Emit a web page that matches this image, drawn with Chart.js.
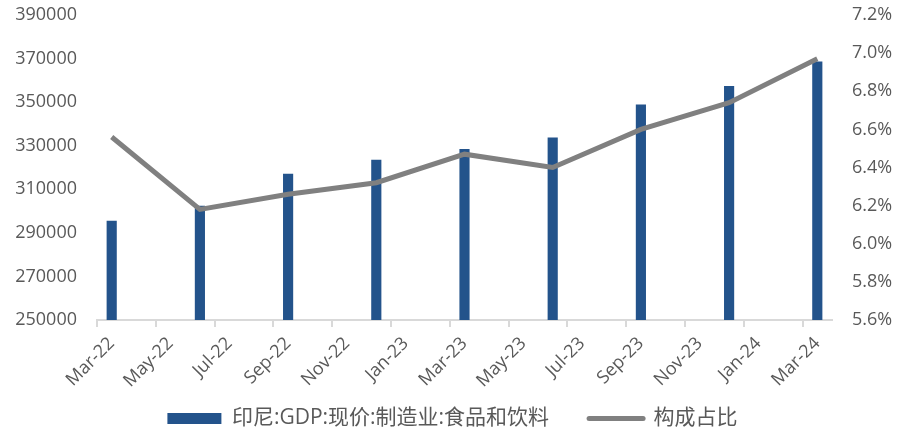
<!DOCTYPE html>
<html>
<head>
<meta charset="utf-8">
<script src="https://cdn.jsdelivr.net/npm/chart.js@4/dist/chart.umd.min.js"></script>
<style>
  html, body { margin: 0; padding: 0; background: #fff; }
  #box { width: 905px; height: 430px; }
</style>
</head>
<body>
<div id="box"><canvas id="grafico"></canvas></div>
<script>
const meses = ['Mar-22', 'Apr-22', 'May-22', 'Jun-22', 'Jul-22', 'Aug-22', 'Sep-22', 'Oct-22', 'Nov-22', 'Dec-22',
    'Jan-23', 'Feb-23', 'Mar-23', 'Apr-23', 'May-23', 'Jun-23', 'Jul-23', 'Aug-23', 'Sep-23', 'Oct-23', 'Nov-23', 'Dec-23',
    'Jan-24', 'Feb-24', 'Mar-24'];
const trimestres = ['Mar-22', 'Jun-22', 'Sep-22', 'Dec-22', 'Mar-23', 'Jun-23', 'Sep-23', 'Dec-23', 'Mar-24'];
const valoresGdp = [295400, 302300, 317000, 323400, 328300, 333600, 348800, 357300, 368500];
const participacao = [6.56, 6.18, 6.26, 6.32, 6.47, 6.40, 6.60, 6.74, 6.97];

const azul = '#23538b';
const cinza = '#808080';
const corTexto = '#595959';
const fonte = "'Open Sans', 'Noto Sans CJK SC', sans-serif";

// legenda com altura fixa e topo puxado pra cima (o padding dela tambem vale na vertical)
const ajusteLegenda = {
    id: 'ajusteLegenda',
    beforeLayout(chart) {
        const leg = chart.legend;
        if (leg && !leg._ajustado) {
            const fitOriginal = leg.fit;
            leg.fit = function () {
                fitOriginal.call(this);
                this.height = 38;
            };
            leg._ajustado = true;
        }
    },
    afterLayout(chart) {
        const leg = chart.legend;
        if (leg) {
            leg.top -= 24;
        }
    }
};

const semPadding = s => {
    s.paddingTop = 0;
    s.paddingBottom = 0;
};

const grafico = document.getElementById('grafico');

new Chart(grafico, {
    type: 'bar',
    data: {
        labels: meses,
        datasets: [{
            type: 'line',
            label: '构成占比',
            data: trimestres.map((m, i) => ({ x: m, y: participacao[i] })),
            borderColor: cinza,
            backgroundColor: cinza,
            borderWidth: 5,
            pointRadius: 0,
            tension: 0,
            yAxisID: 'y1',
            order: 0
        }, {
            label: '印尼:GDP:现价:制造业:食品和饮料',
            data: trimestres.map((m, i) => ({ x: m, y: valoresGdp[i] })),
            backgroundColor: azul,
            barThickness: 9.5,
            yAxisID: 'y',
            order: 1
        }]
    },
    plugins: [ajusteLegenda],
    options: {
        responsive: true,
        maintainAspectRatio: false,
        animation: false,
        layout: { padding: { top: 15, right: 0, bottom: 0, left: 0 } },
        plugins: {
            tooltip: { enabled: false },
            legend: {
                position: 'bottom',
                reverse: true,
                labels: {
                    font: { family: fonte, size: 21 },
                    color: corTexto,
                    usePointStyle: true,
                    pointStyleWidth: 54,
                    boxHeight: 11,
                    padding: 40,
                    generateLabels: chart => {
                        const itens = Chart.defaults.plugins.legend.labels.generateLabels(chart);
                        itens.forEach(item => {
                            if (item.datasetIndex === 0) {
                                item.pointStyle = 'line';
                                item.strokeStyle = cinza;
                                item.lineWidth = 5;
                                item.lineCap = 'round';
                            } else {
                                item.pointStyle = 'rect';
                                item.fillStyle = azul;
                                item.lineWidth = 0;
                            }
                        });
                        return itens;
                    }
                }
            }
        },
        scales: {
            x: {
                offset: true,
                afterFit: s => {
                    s.height = 72;
                    s.paddingLeft = 0;
                    s.paddingRight = 0;
                },
                grid: {
                    offset: true,
                    drawOnChartArea: false,
                    tickLength: 7,
                    lineWidth: 2,
                    color: ctx => (ctx.index !== undefined && ctx.index % 2 === 0) ? '#d9d9d9' : 'rgba(0,0,0,0)'
                },
                border: { display: true, color: '#d9d9d9', width: 2 },
                ticks: {
                    autoSkip: false,
                    maxRotation: 45,
                    minRotation: 45,
                    padding: 6,
                    color: corTexto,
                    font: { family: fonte, size: 18 },
                    callback: (v, i) => i % 2 === 0 ? meses[i] : ''
                }
            },
            y: {
                position: 'left',
                min: 250000,
                max: 390000,
                afterFit: s => { s.width = 97; semPadding(s); },
                grid: { display: false, drawTicks: false },
                border: { display: false },
                ticks: {
                    stepSize: 20000,
                    padding: 20,
                    color: corTexto,
                    font: { family: fonte, size: 18 },
                    callback: v => v
                }
            },
            y1: {
                position: 'right',
                min: 5.6,
                max: 7.2,
                afterFit: s => { s.width = 73; semPadding(s); },
                grid: { display: false, drawTicks: false },
                border: { display: false },
                ticks: {
                    stepSize: 0.2,
                    padding: 20,
                    color: corTexto,
                    font: { family: fonte, size: 18 },
                    callback: v => v.toFixed(1) + '%'
                }
            }
        }
    }
});
</script>
</body>
</html>
